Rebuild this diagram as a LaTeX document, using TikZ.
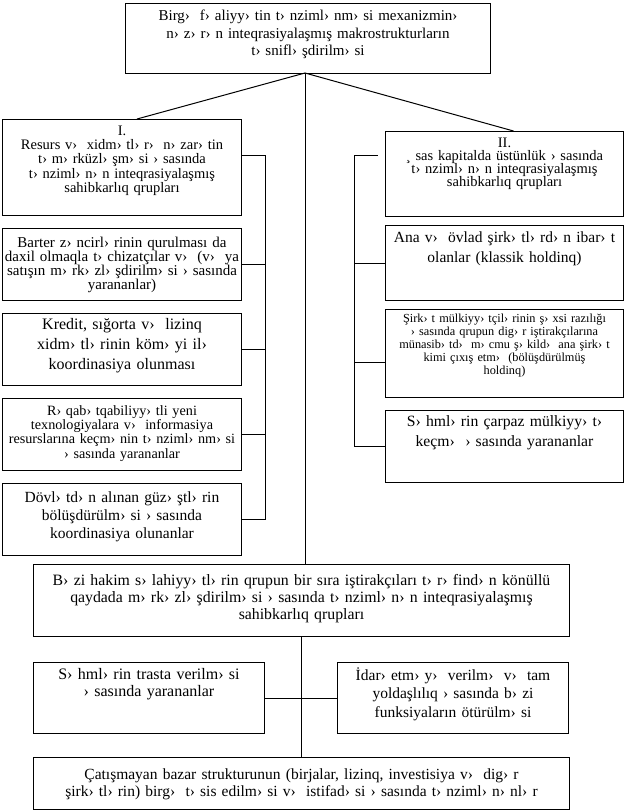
\documentclass[tikz,border=0pt]{standalone}
\usepackage{fontspec}
\setmainfont{Liberation Serif}
\usetikzlibrary{positioning, calc}
\newcommand{\fsz}[2]{\fontsize{#1}{#2}\selectfont}
\tikzset{
  every picture/.style={line width=1pt},
  box/.style={draw, align=center, anchor=north west, inner sep=2pt, text width=#1},
  box/.default=235pt,
  link/.style={draw, line width=1pt},
}

\begin{document}
\begin{tikzpicture}[x=1pt, y=-1pt,
    lbox/.style={box=235pt},
    rbox/.style={box=234pt},
    wbox/.style={box=532pt},
    sbox/.style={box=227pt},
    th/.style 2 args={text height=#1pt, text depth=#2pt},
  ]
  \useasboundingbox (0,0) rectangle (626,811);

  \node[box=361pt, th={15}{51}, font=\fsz{15}{17.5}] (top) at (125,3)
    {Birg›~ f› aliyy› tin t› nziml› nm› si mexanizmin›\\n› z› r› n inteqrasiyalaşmış makrostrukturların\\t› snifl› şdirilm› si};

  % left column
  \node[lbox, th={14}{78}, font=\fsz{14.5}{14.2}] (grpI) at (2,119)
    {I.\\Resurs v›~ xidm› tl› r›~ n› zar› tin\\t› m› rküzl› şm› si › sasında\\t› nziml› n› n inteqrasiyalaşmış\\sahibkarlıq qrupları};
  \node[lbox, th={16.5}{51.5}, font=\fsz{15}{14.2}] (barter) at (2,228)
    {Barter z› ncirl› rinin qurulması da\\daxil olmaqla t› chizatçılar v›~ (v›~ ya\\satışın m› rk› zl› şdirilm› si › sasında\\yarananlar)};
  \node[lbox, th={13.5}{54.5}, font=\fsz{16}{20}] (kredit) at (2,313)
    {Kredit, sığorta v›~ lizinq\\xidm› tl› rinin köm› yi il›\\koordinasiya olunması};
  \node[lbox, th={15}{53}, font=\fsz{14.2}{14.2}] (raqabat) at (2,398)
    {R› qab› tqabiliyy› tli yeni\\texnologiyalara v›~ informasiya\\resurslarına keçm› nin t› nziml› nm› si\\› sasında yarananlar};
  \node[lbox, th={16.5}{51.5}, font=\fsz{15.5}{18.3}] (dovlat) at (2,483)
    {Dövl› td› n alınan güz› ştl› rin\\bölüşdürülm› si › sasında\\koordinasiya olunanlar};

  % right column
  \node[rbox, th={13.5}{67.5}, font=\fsz{14.5}{13.3}] (grpII) at (385,131)
    {II.\\¸ sas kapitalda üstünlük › sasında\\t› nziml› n› n inteqrasiyalaşmış\\sahibkarlıq qrupları};
  \node[rbox, th={15}{56}, font=\fsz{15.5}{20}] (ana) at (385,225)
    {Ana v›~ övlad şirk› tl› rd› n ibar› t\\olanlar (klassik holdinq)};
  \node[rbox, th={10.5}{73.5}, font=\fsz{12.3}{13.1}] (sirkat) at (385,309)
    {Şirk› t mülkiyy› tçil› rinin ş› xsi razılığı\\› sasında qrupun dig› r iştirakçılarına\\münasib› td›~ m› cmu ş› kild›~ ana şirk› t\\kimi çıxış etm›~ (bölüşdürülmüş\\holdinq)};
  \node[rbox, th={14}{54}, font=\fsz{15.7}{20}] (sahm) at (385,410)
    {S› hml› rin çarpaz mülkiyy› t›\\keçm›~ › sasında yarananlar};

  % lower part
  \node[wbox, th={18.5}{49.5}, font=\fsz{15.8}{17.3}] (hakim) at (33,564)
    {B› zi hakim s› lahiyy› tl› rin qrupun bir sıra iştirakçıları t› r› find› n könüllü\\qaydada m› rk› zl› şdirilm› si › sasında t› nziml› n› n inteqrasiyalaşmış\\sahibkarlıq qrupları};
  \node[sbox, th={15}{52}, font=\fsz{16}{16.7}] (trust) at (33,662)
    {S› hml› rin trasta verilm› si\\› sasında yarananlar};
  \node[sbox, th={16}{51}, font=\fsz{15.5}{18.3}] (idara) at (337,662)
    {İdar› etm› y›~ verilm›~ v›~ tam\\yoldaşlılıq › sasında b› zi\\funksiyaların ötürülm› si};
  \node[wbox, th={20}{28}, font=\fsz{15.5}{16.7}] (bazar) at (33,757)
    {Çatışmayan bazar strukturunun (birjalar, lizinq, investisiya v›~ dig› r\\şirk› tl› rin) birg›~ t› sis edilm› si v›~ istifad› si › sasında t› nziml› n› nl› r};

  % connectors
  \coordinate (apex) at (305,73);
  \coordinate (lbar) at (265,155);
  \coordinate (rbar) at (354,155);
  \draw[link] ([xshift=15pt]grpI.north) -- (apex) -- ([xshift=9pt]grpII.north);
  \draw[link] (apex) -- (apex |- hakim.north);
  \draw[link] (hakim.south) -- (bazar.north);
  \draw[link] (trust.east) -- (idara.west);

  \draw[link] (lbar -| grpI.east) -- (lbar) -- (lbar |- dovlat.east) -- (dovlat.east);
  \draw[link] (barter.east) -- (barter.east -| lbar);
  \draw[link] (kredit.east) -- (kredit.east -| lbar);
  \draw[link] (raqabat.east) -- (raqabat.east -| lbar);

  \draw[link, shorten >=7pt] (rbar) -- (rbar -| grpII.west);
  \draw[link] (rbar) -- (rbar |- sahm.west) -- (sahm.west);
  \draw[link] (ana.west) -- (ana.west -| rbar);
  \draw[link] ([yshift=-9pt]sirkat.west) -- ([yshift=-9pt]sirkat.west -| rbar);
\end{tikzpicture}
\end{document}
